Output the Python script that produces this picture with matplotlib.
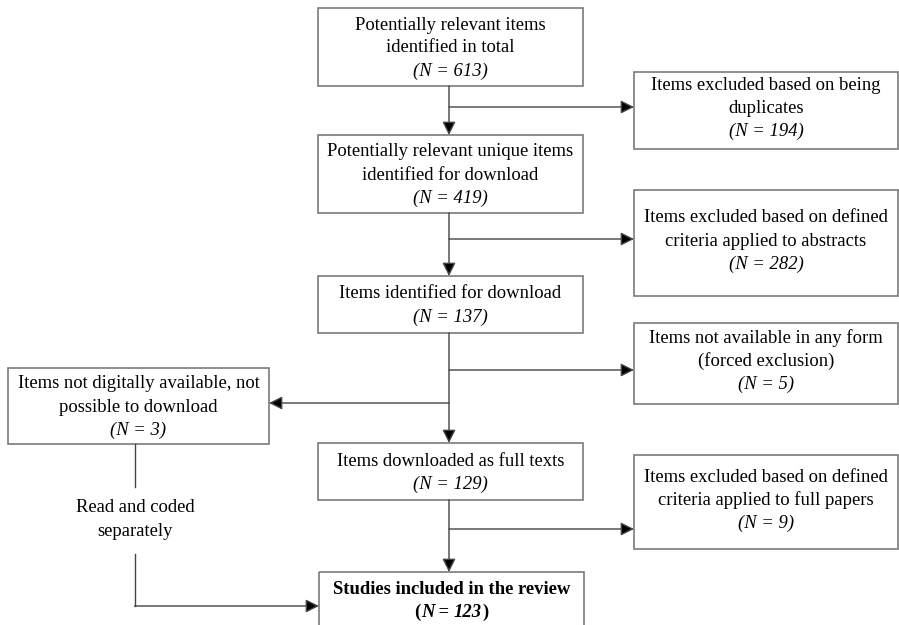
import matplotlib
matplotlib.use('Agg')
import matplotlib.pyplot as plt
from matplotlib.patches import Rectangle
from matplotlib.offsetbox import TextArea, HPacker, AnnotationBbox

plt.rcParams['font.family'] = ['Liberation Serif', 'DejaVu Serif']

# flow data
stage_labels = [['Potentially relevant items', 'identified in total'],
                ['Potentially relevant unique items', 'identified for download'],
                ['Items identified for download'],
                ['Items downloaded as full texts'],
                ['Studies included in the review']]
stage_counts = [613, 419, 137, 129, 123]

excluded_labels = [['Items excluded based on being', 'duplicates'],
                   ['Items excluded based on defined', 'criteria applied to abstracts'],
                   ['Items not available in any form', '(forced exclusion)'],
                   ['Items excluded based on defined', 'criteria applied to full papers']]
excluded_counts = [194, 282, 5, 9]

side_label = ['Items not digitally available, not', 'possible to download']
side_count = 3
side_note = ['Read and coded', 'separately']

# layout (pixel coords, y down)
stage_boxes = [(318, 8, 265, 78), (318, 135, 265, 78), (318, 276, 265, 57),
               (318, 443, 265, 57), (319, 572, 265, 60)]
excl_boxes = [(634, 72, 264, 77), (634, 190, 264, 106), (634, 323, 264, 81),
              (634, 455, 264, 94)]
excl_y = [107, 239, 370, 529]
side_box = (8, 368, 261, 76)
side_y = 403
main_x = 449
fs = 13.4
lh = 23
lc = '#444444'
ec = '#7a7a7a'

fig = plt.figure(figsize=(8.99, 6.25), dpi=100)
ax = fig.add_axes([0, 0, 1, 1])
ax.set_xlim(0, 899)
ax.set_ylim(625, 0)
ax.axis('off')


def box(b, lines, n, dy=0, bold=False):
    x, y, w, h = b
    ax.add_patch(Rectangle((x, y), w, h, fill=False, edgecolor=ec, lw=1.2))
    cx = x + w / 2
    cy = y + h / 2 + dy
    k = len(lines) + 1
    y0 = cy - (k - 1) * lh / 2
    for i, t in enumerate(lines):
        ax.text(cx, y0 + i * lh, t, ha='center', va='center', fontsize=fs,
                fontweight='bold' if bold else 'normal')
    yn = y0 + len(lines) * lh
    if not bold:
        ax.text(cx, yn, '(N = %d)' % n, ha='center', va='center', fontsize=fs,
                style='italic')
    else:
        parts = [('(', 'normal'), ('N', 'italic'), (' = ', 'normal'),
                 (str(n), 'italic'), (')', 'normal')]
        tas = [TextArea(p, textprops=dict(fontsize=fs, fontweight='bold', style=s))
               for p, s in parts]
        pk = HPacker(children=tas, align='baseline', pad=0, sep=0)
        ab = AnnotationBbox(pk, (cx, yn), frameon=False, box_alignment=(0.5, 0.5))
        ax.add_artist(ab)


def arrow(x0, y0, x1, y1):
    ax.annotate('', xy=(x1, y1), xytext=(x0, y0),
                arrowprops=dict(arrowstyle='-|>', color=lc, lw=1.0,
                                mutation_scale=20, shrinkA=0, shrinkB=0,
                                fc='black', ec=lc))


for i in range(4):
    box(stage_boxes[i], stage_labels[i], stage_counts[i], dy=1)
box(stage_boxes[4], stage_labels[4], stage_counts[4], dy=-1, bold=True)
for i in range(4):
    box(excl_boxes[i], excluded_labels[i], excluded_counts[i], dy=-2)
box(side_box, side_label, side_count, dy=1)

# main vertical arrows
for i in range(4):
    x, y, w, h = stage_boxes[i]
    arrow(main_x, y + h, main_x, stage_boxes[i + 1][1])

# exclusion arrows
for yy, b in zip(excl_y, excl_boxes):
    arrow(main_x, yy, b[0], yy)
arrow(main_x, side_y, side_box[0] + side_box[2], side_y)

# side route
sx = 134.5
ax.plot([sx, sx], [side_box[1] + side_box[3], 487], color=lc, lw=1.0)
ax.text(sx + 1, 508, side_note[0], ha='center', va='center', fontsize=fs)
ax.text(sx + 1, 531, side_note[1], ha='center', va='center', fontsize=fs)
ax.plot([sx, sx], [554, 606], color=lc, lw=1.0)
arrow(sx, 606, 319, 606)

fig.savefig('out.png', dpi=100)
